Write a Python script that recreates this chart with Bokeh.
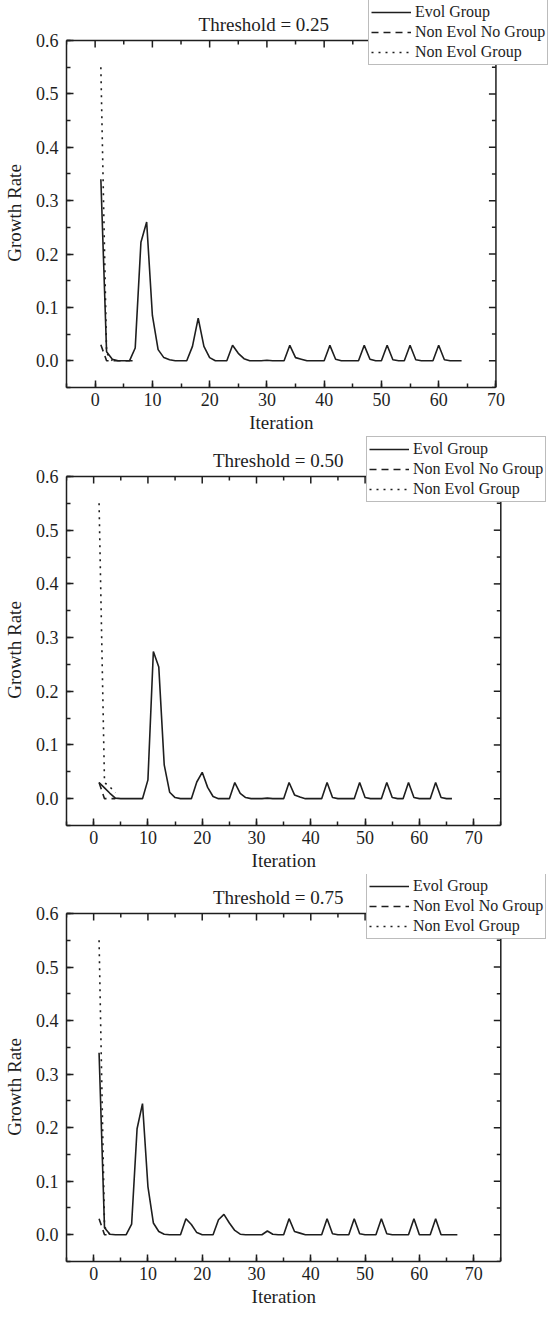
import math
from bokeh.plotting import figure
from bokeh.models import (Range1d, SingleIntervalTicker, Legend, LegendItem,
                          NumeralTickFormatter, Label)
from bokeh.layouts import column
from bokeh.embed import file_html
from bokeh.resources import INLINE

# ---------------- data ----------------
titles = ["Threshold = 0.25", "Threshold = 0.50", "Threshold = 0.75"]
series_names = ["Evol Group", "Non Evol No Group", "Non Evol Group"]
x_title = "Iteration"
y_title = "Growth Rate"

# Threshold = 0.25
evol_x_025 = list(range(1, 65))
evol_y_025 = [0.34, 0.017, 0.003, 0, 0, 0, 0.024, 0.222, 0.26, 0.085,
              0.021, 0.006, 0.002, 0, 0, 0, 0.027, 0.080, 0.027, 0.006,
              0, 0, 0, 0.029, 0.014, 0.004, 0, 0, 0, 0.001,
              0, 0, 0, 0.029, 0.006, 0.003, 0, 0, 0, 0,
              0.029, 0.003, 0, 0, 0, 0, 0.029, 0.003, 0, 0,
              0.029, 0.002, 0, 0, 0.029, 0.002, 0, 0, 0, 0.029,
              0.002, 0, 0, 0]
nong_x_025 = [1, 2, 3, 4, 5, 6, 7]
nong_y_025 = [0.03, 0.0, 0.0, 0.0, 0.0, 0.0, 0.0]
neg_x_025 = [1, 2, 3]
neg_y_025 = [0.55, 0.015, 0.0]

# Threshold = 0.50
evol_x_050 = list(range(1, 67))
evol_y_050 = [0.030, 0.020, 0.010, 0.001, 0, 0, 0, 0, 0, 0.035,
              0.274, 0.245, 0.063, 0.012, 0.002, 0, 0, 0, 0.031, 0.049,
              0.021, 0.004, 0, 0, 0, 0.030, 0.010, 0.002, 0, 0,
              0, 0.001, 0, 0, 0, 0.030, 0.007, 0.003, 0, 0,
              0, 0, 0.030, 0.002, 0, 0, 0, 0, 0.030, 0.002,
              0, 0, 0, 0.030, 0.002, 0, 0, 0.030, 0.002, 0,
              0, 0, 0.030, 0.002, 0, 0]
nong_x_050 = [1, 2, 3, 4]
nong_y_050 = [0.03, 0.0, 0.0, 0.0]
neg_x_050 = [1, 2, 3, 4]
neg_y_050 = [0.55, 0.03, 0.022, 0.011]

# Threshold = 0.75
evol_x_075 = list(range(1, 68))
evol_y_075 = [0.34, 0.013, 0.001, 0, 0, 0, 0.020, 0.198, 0.245, 0.090,
              0.022, 0.006, 0.001, 0, 0, 0, 0.030, 0.019, 0.004, 0,
              0, 0, 0.028, 0.038, 0.022, 0.008, 0.001, 0, 0, 0,
              0, 0.007, 0.001, 0, 0, 0.030, 0.006, 0.003, 0, 0,
              0, 0, 0.030, 0.002, 0, 0, 0, 0.030, 0.002, 0,
              0, 0, 0.030, 0.002, 0, 0, 0, 0, 0.030, 0,
              0, 0, 0.030, 0, 0, 0, 0]
nong_x_075 = [1, 2, 3]
nong_y_075 = [0.03, 0.0, 0.0]
neg_x_075 = [1, 2, 3]
neg_y_075 = [0.55, 0.015, 0.0]

x_min = -5
x_max = [70, 75, 75]
y_min, y_max = -0.05, 0.6
y_major = [0.0, 0.1, 0.2, 0.3, 0.4, 0.5, 0.6]
y_minor = [-0.05, 0.05, 0.15, 0.25, 0.35, 0.45, 0.55]

# ---------------- style ----------------
FONT = "Liberation Serif"
INK = "#1e1e1e"
W = 548
LABEL_PX = 19
NBSP = "\u00a0"
SOLID = dict(line_color=INK, line_width=1.6)
DASHED = dict(line_color=INK, line_width=1.6, line_dash="7 5")
DOTTED = dict(line_color=INK, line_width=1.6, line_dash="2 5")
TICK_IN, MINOR_IN = 7, 4


def style_axis(ax):
    ax.axis_line_color = INK
    ax.axis_line_width = 1.5
    ax.major_tick_line_color = INK
    ax.major_tick_line_width = 1.5
    ax.major_tick_in = TICK_IN
    ax.major_tick_out = 0
    ax.minor_tick_line_color = INK
    ax.minor_tick_line_width = 1.5
    ax.minor_tick_in = MINOR_IN
    ax.minor_tick_out = 0
    ax.major_label_text_font = FONT
    ax.major_label_text_color = INK
    ax.major_label_text_font_size = "18px"
    ax.axis_label_text_font = FONT
    ax.axis_label_text_font_size = f"{LABEL_PX}px"
    ax.axis_label_text_font_style = "normal"
    ax.axis_label_text_color = INK


def make_panel(title, ex, ey, nx, ny, gx, gy, xmax, height, ml, vis_w, vis_top,
               title_cx, leg_left, leg_top, mb=49, leg_h=64):
    # the frame spans the drawn box plus the band above / right of it that
    # holds the title and the legend
    frame_w = W - ml
    frame_h = height - mb
    ppx = vis_w / (xmax - x_min)
    ppy = (frame_h - vis_top) / (y_max - y_min)
    x_end = x_min + frame_w / ppx
    y_end = y_max + vis_top / ppy

    p = figure(width=W, height=height,
               x_range=Range1d(x_min, x_end), y_range=Range1d(y_min, y_end),
               output_backend="svg", toolbar_location=None,
               min_border_left=ml, min_border_right=0,
               min_border_top=0, min_border_bottom=mb)
    p.outline_line_color = None
    p.xgrid.visible = False
    p.ygrid.visible = False
    p.background_fill_color = "white"
    p.border_fill_color = "white"

    p.xaxis.ticker = SingleIntervalTicker(interval=10, num_minor_ticks=2)
    p.yaxis.ticker = SingleIntervalTicker(interval=0.1, num_minor_ticks=2)
    p.yaxis.formatter = NumeralTickFormatter(format="0.0")
    p.xaxis.bounds = (x_min, xmax)
    p.yaxis.bounds = (y_min, y_max + 1e-4)
    # axis labels are centred on the frame; pad them so they centre on the box
    space_w = 0.25 * LABEL_PX
    p.xaxis.axis_label = x_title + NBSP * round((frame_w - vis_w) / space_w)
    p.yaxis.axis_label = y_title + NBSP * round(vis_top / space_w)
    style_axis(p.xaxis[0])
    style_axis(p.yaxis[0])
    p.xaxis.major_label_standoff = 5
    p.xaxis.axis_label_standoff = 3
    p.yaxis.major_label_standoff = 8
    p.yaxis.axis_label_standoff = 8

    # top and right edges of the box, with inward ticks
    p.segment(x0=[x_min, xmax], y0=[y_max, y_min], x1=[xmax, xmax], y1=[y_max, y_max],
              line_color=INK, line_width=1.5)
    x_major = list(range(0, xmax + 1, 10))
    x_minor = list(range(x_min, xmax + 1, 10))
    p.ray(x=x_major, y=[y_max] * len(x_major), length=TICK_IN, length_units="screen",
          angle=-math.pi / 2, line_color=INK, line_width=1.5)
    p.ray(x=x_minor, y=[y_max] * len(x_minor), length=MINOR_IN, length_units="screen",
          angle=-math.pi / 2, line_color=INK, line_width=1.5)
    p.ray(x=[xmax] * len(y_major), y=y_major, length=TICK_IN, length_units="screen",
          angle=math.pi, line_color=INK, line_width=1.5)
    p.ray(x=[xmax] * len(y_minor), y=y_minor, length=MINOR_IN, length_units="screen",
          angle=math.pi, line_color=INK, line_width=1.5)

    # title
    p.add_layout(Label(x=x_min + (title_cx - 8 - ml) / ppx, y=y_max + 16 / ppy,
                       text=title, text_align="center", text_baseline="alphabetic",
                       text_font=FONT, text_font_size="19px", text_color=INK))

    r1 = p.line(ex, ey, **SOLID)
    r2 = p.line(nx, ny, **DASHED)
    r3 = p.line(gx, gy, **DOTTED)

    leg = Legend(items=[LegendItem(label=series_names[0], renderers=[r1]),
                        LegendItem(label=series_names[1], renderers=[r2]),
                        LegendItem(label=series_names[2], renderers=[r3])],
                 location=(leg_left - 8 - ml, frame_h - leg_top - leg_h))
    leg.border_line_color = "#7a7a7a"
    leg.border_line_width = 1.2
    leg.background_fill_color = "white"
    leg.background_fill_alpha = 1.0
    leg.padding = 2
    leg.spacing = 0
    leg.margin = 0
    leg.glyph_width = 40
    leg.glyph_height = 20
    leg.label_height = 20
    leg.label_standoff = 4
    leg.label_text_font = FONT
    leg.label_text_font_size = "16px"
    leg.label_text_color = INK
    p.add_layout(leg)
    return p


p1 = make_panel(titles[0], evol_x_025, evol_y_025, nong_x_025, nong_y_025,
                neg_x_025, neg_y_025, x_max[0], 436, 62, 433, 40,
                title_cx=269, leg_left=372, leg_top=1)
p2 = make_panel(titles[1], evol_x_050, evol_y_050, nong_x_050, nong_y_050,
                neg_x_050, neg_y_050, x_max[1], 438, 63, 437, 40,
                title_cx=284, leg_left=371, leg_top=2)
p3 = make_panel(titles[2], evol_x_075, evol_y_075, nong_x_075, nong_y_075,
                neg_x_075, neg_y_075, x_max[2], 436, 63, 437, 39,
                title_cx=284, leg_left=371, leg_top=1)

layout = column(p1, p2, p3)
open("out.html", "w").write(file_html(layout, INLINE))
